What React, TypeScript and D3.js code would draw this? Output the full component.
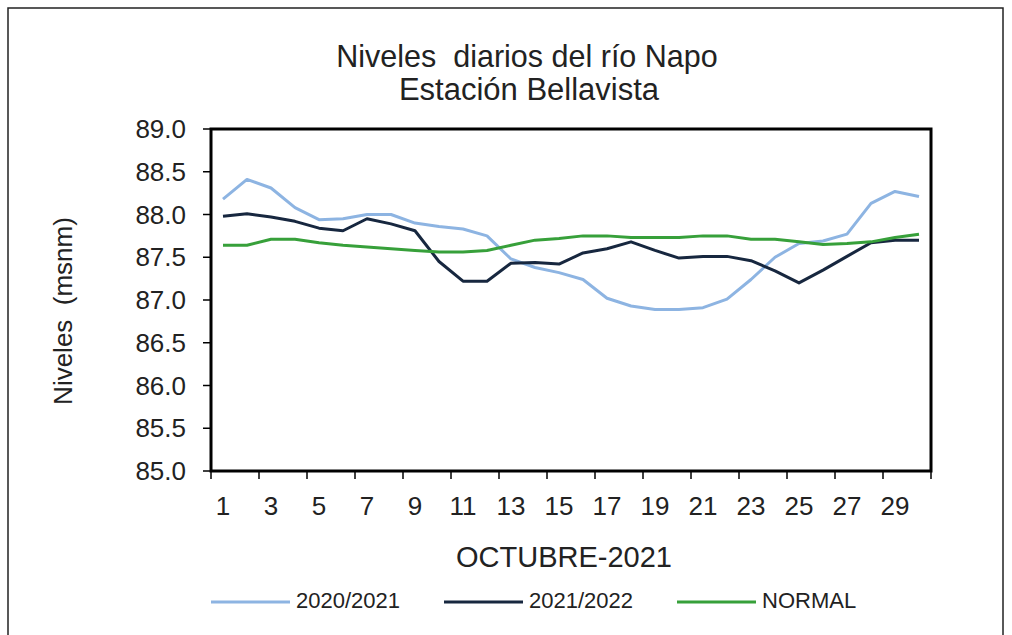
import React from "react";
import * as d3 from "d3";

const days = d3.range(1, 31);
const tickLabels = ["1","3","5","7","9","11","13","15","17","19","21","23","25","27","29"];
const yTicks = [85.0, 85.5, 86.0, 86.5, 87.0, 87.5, 88.0, 88.5, 89.0];

const s2020 = [88.18, 88.41, 88.31, 88.08, 87.94, 87.95, 88.0, 88.0, 87.9, 87.86, 87.83, 87.75, 87.48, 87.38, 87.32, 87.24, 87.02, 86.93, 86.89, 86.89, 86.91, 87.01, 87.24, 87.5, 87.66, 87.69, 87.77, 88.13, 88.27, 88.21];
const s2021 = [87.98, 88.01, 87.97, 87.92, 87.84, 87.81, 87.95, 87.89, 87.81, 87.45, 87.22, 87.22, 87.43, 87.44, 87.42, 87.55, 87.6, 87.68, 87.58, 87.49, 87.51, 87.51, 87.46, 87.34, 87.2, 87.35, 87.51, 87.67, 87.7, 87.7];
const sNormal = [87.64, 87.64, 87.71, 87.71, 87.67, 87.64, 87.62, 87.6, 87.58, 87.56, 87.56, 87.58, 87.64, 87.7, 87.72, 87.75, 87.75, 87.73, 87.73, 87.73, 87.75, 87.75, 87.71, 87.71, 87.68, 87.65, 87.66, 87.68, 87.73, 87.77];

const seriesNames = ["2020/2021", "2021/2022", "NORMAL"];
const seriesColors = ["#8db4e2", "#17273f", "#37a03a"];
const seriesData = [s2020, s2021, sNormal];

const W = 1012, H = 635;
const L = 211, R = 931, T = 129, B = 471;
const FONT = "'Liberation Sans', Arial, sans-serif";
const TXT = "#222";

export default function App() {
  const x = d3.scaleBand<number>().domain(days).range([L, R]);
  const y = d3.scaleLinear().domain([85, 89]).range([B, T]);
  const line = (vals: number[]) =>
    d3.line<number>().x((_, i) => x(days[i])! + x.bandwidth() / 2).y((v) => y(v))(vals) || "";
  const tickXs = d3.range(0, 31, 2).map((i) => L + i * x.bandwidth());
  const legendX = [211, 444, 677];
  return (
    <svg width={W} height={H} style={{ position: "absolute", left: 0, top: 0, background: "#fff" }} fontFamily={FONT}>
      <rect x={0} y={0} width={W} height={H} fill="#fff" />
      <rect x={8} y={8} width={995} height={640} fill="none" stroke="#222" strokeWidth={1.5} />
      <text x={527} y={67} textAnchor="middle" fontSize={30.5} fill={TXT}>{"Niveles\u00a0 diarios del río Napo"}</text>
      <text x={529} y={100} textAnchor="middle" fontSize={31} fill={TXT}>Estación Bellavista</text>
      {yTicks.map((t) => (
        <g key={t}>
          <line x1={203} x2={L} y1={y(t)} y2={y(t)} stroke="#000" strokeWidth={1.5} />
          <text x={186} y={y(t) + 9} textAnchor="end" fontSize={26} fill={TXT}>{t.toFixed(1)}</text>
        </g>
      ))}
      {tickXs.map((tx, i) => (
        <line key={i} x1={tx} x2={tx} y1={B} y2={B + 8} stroke="#000" strokeWidth={1.5} />
      ))}
      {tickLabels.map((lab) => (
        <text key={lab} x={x(+lab)! + x.bandwidth() / 2} y={515} textAnchor="middle" fontSize={26} fill={TXT}>{lab}</text>
      ))}
      <text x={564} y={567} textAnchor="middle" fontSize={29} fill={TXT}>OCTUBRE-2021</text>
      <text transform={`translate(72,311) rotate(-90)`} textAnchor="middle" fontSize={26} fill={TXT}>{"Niveles\u00a0 (msnm)"}</text>
      {seriesData.map((s, i) => (
        <path key={i} d={line(s)} fill="none" stroke={seriesColors[i]} strokeWidth={3} strokeLinejoin="round" />
      ))}
      <rect x={L} y={T} width={R - L} height={B - T} fill="none" stroke="#000" strokeWidth={3} />
      {seriesNames.map((n, i) => (
        <g key={n}>
          <line x1={legendX[i]} x2={legendX[i] + 79} y1={602} y2={602} stroke={seriesColors[i]} strokeWidth={3} />
          <text x={legendX[i] + 85} y={608} fontSize={22} fill={TXT}>{n}</text>
        </g>
      ))}
    </svg>
  );
}
